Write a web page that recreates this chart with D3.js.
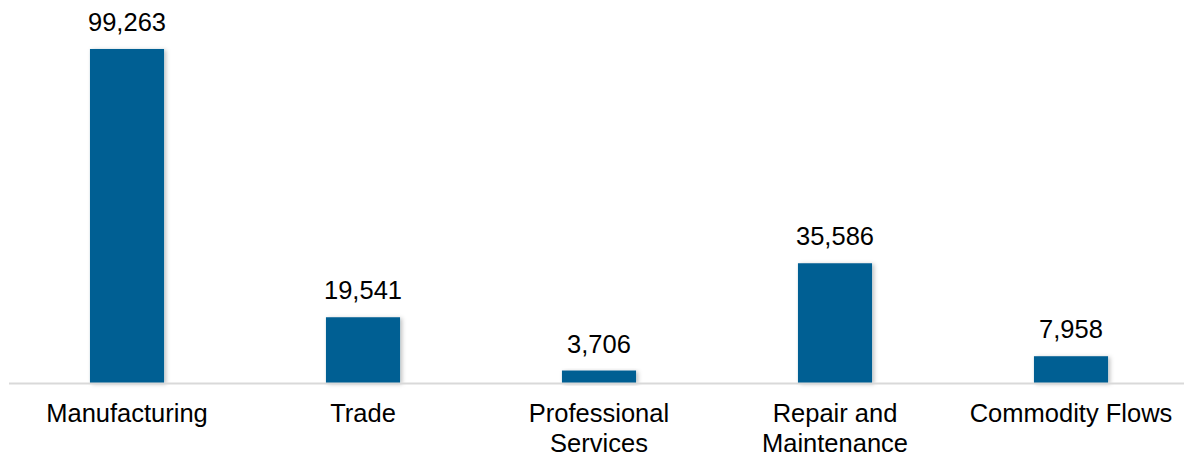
<!DOCTYPE html>
<html>
<head>
<meta charset="utf-8">
<script src="https://cdn.jsdelivr.net/npm/d3@7"></script>
<style>
  body { margin: 0; background: #fff; }
  text { font-family: "Liberation Sans", Arial, sans-serif; fill: #000; }
</style>
</head>
<body>
<div id="chart"></div>
<script>
// === Chart data ===
const categories = ["Manufacturing", "Trade", "Professional Services", "Repair and Maintenance", "Commodity Flows"];
// how each category label is broken into lines
const categoryLines = [["Manufacturing"], ["Trade"], ["Professional", "Services"], ["Repair and", "Maintenance"], ["Commodity Flows"]];
const values = [99263, 19541, 3706, 35586, 7958];

const BAR_COLOR = "#035e93";
const svgWidth = 1184, svgHeight = 457;
const baseY = 383;  // y of the category axis line

const svg = d3.select("#chart")
    .append("svg")
    .attr("width", svgWidth)
    .attr("height", svgHeight);

// soft shadow under the bars
const defs = svg.append("defs");
defs.append("filter")
    .attr("id", "shadow")
    .attr("x", "-20%").attr("y", "-20%")
    .attr("width", "140%").attr("height", "140%")
    .append("feDropShadow")
    .attr("dx", 2).attr("dy", 1)
    .attr("stdDeviation", 2)
    .attr("flood-color", "#000")
    .attr("flood-opacity", 0.25);

const x = d3.scaleBand()
    .domain(categories)
    .range([9, 1189])
    .paddingInner(0.686)
    .paddingOuter(0.343);

const y = d3.scaleLinear()
    .domain([0, 100000])
    .range([baseY, baseY - 336.5]);

// bars
svg.append("g")
    .selectAll("rect")
    .data(values)
    .join("rect")
    .attr("x", (d, i) => x(categories[i]))
    .attr("y", d => y(d))
    .attr("width", x.bandwidth())
    .attr("height", d => baseY - y(d))
    .attr("fill", BAR_COLOR)
    .attr("filter", "url(#shadow)");

// axis line
svg.append("line")
    .attr("x1", 9).attr("x2", svgWidth)
    .attr("y1", baseY + 0.5).attr("y2", baseY + 0.5)
    .attr("stroke", "#d9d9d9")
    .attr("stroke-width", 2);

// value labels
svg.append("g")
    .selectAll("text")
    .data(values)
    .join("text")
    .attr("x", (d, i) => x(categories[i]) + x.bandwidth() / 2)
    .attr("y", d => y(d) - 18)
    .attr("text-anchor", "middle")
    .style("font-size", "25.5px")
    .text(d => d3.format(",")(d));

// category labels
const cat = svg.append("g")
    .selectAll("text")
    .data(categories)
    .join("text")
    .attr("x", d => x(d) + x.bandwidth() / 2)
    .attr("y", 422)
    .attr("text-anchor", "middle")
    .style("font-size", "25.5px");

cat.each(function (d, i) {
    const t = d3.select(this);
    categoryLines[i].forEach((line, j) => {
        t.append("tspan")
            .attr("x", x(d) + x.bandwidth() / 2)
            .attr("dy", j === 0 ? 0 : 30)
            .text(line);
    });
});
</script>
</body>
</html>
